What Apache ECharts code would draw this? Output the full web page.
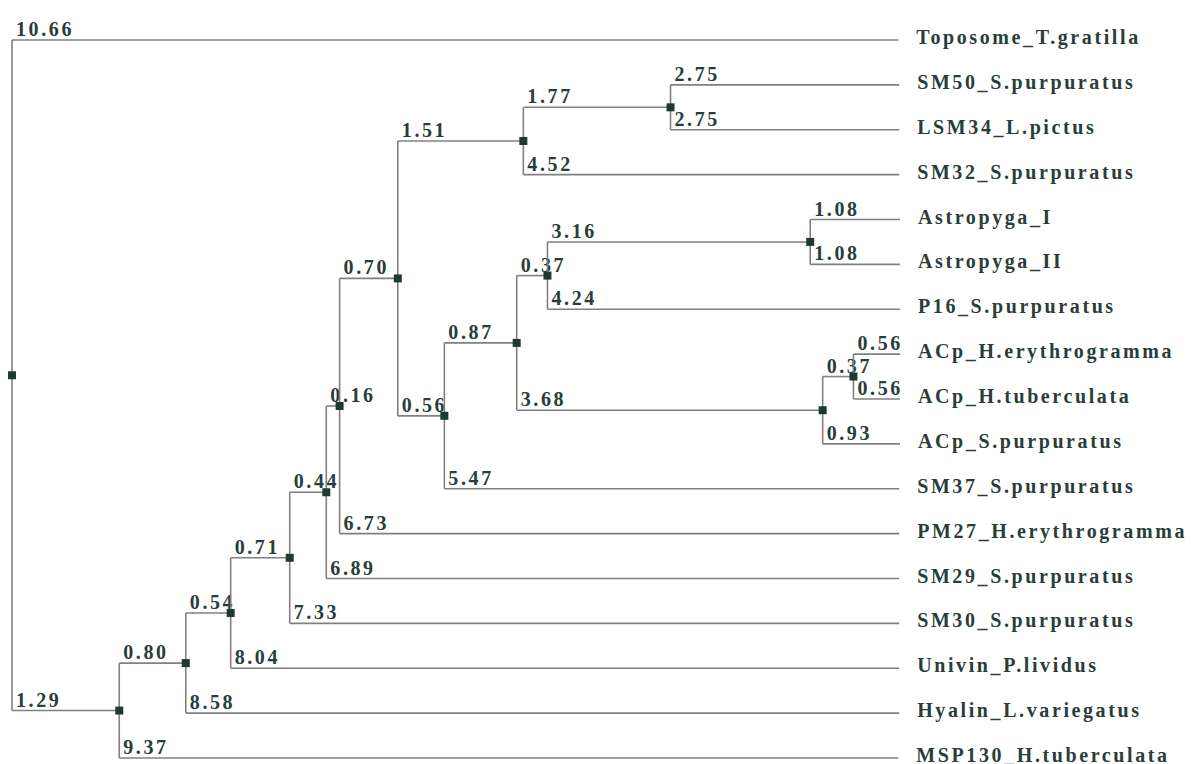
<!DOCTYPE html>
<html>
<head>
<meta charset="utf-8">
<script src="https://cdn.jsdelivr.net/npm/echarts@6/dist/echarts.min.js"></script>
<style>
html,body{margin:0;padding:0;background:#fff;}
#chart{width:1192px;height:764px;}
#chart svg text{letter-spacing:2.6px;}
</style>
</head>
<body>
<div id="chart"></div>
<script>
// Tree definition: each node, its parent and the branch length to it
const nodeNames = ['root','Toposome_T.gratilla','n1','MSP130_H.tuberculata','n2','Hyalin_L.variegatus','n3','Univin_P.lividus','n4','SM30_S.purpuratus','n5','SM29_S.purpuratus','n6','PM27_H.erythrogramma','n7','n8','n9','n10','SM32_S.purpuratus','SM50_S.purpuratus','LSM34_L.pictus','n11','SM37_S.purpuratus','n12','n13','n14','P16_S.purpuratus','Astropyga_I','Astropyga_II','n15','ACp_S.purpuratus','ACp_H.erythrogramma','ACp_H.tuberculata'];
const parentNames = [null,'root','root','n1','n1','n2','n2','n3','n3','n4','n4','n5','n5','n6','n6','n7','n7','n8','n8','n10','n10','n9','n9','n11','n11','n12','n12','n14','n14','n13','n13','n15','n15'];
const branchLengths = [0,10.66,1.29,9.37,0.80,8.58,0.54,8.04,0.71,7.33,0.44,6.89,0.16,6.73,0.70,1.51,0.56,1.77,4.52,2.75,2.75,0.87,5.47,0.37,3.68,3.16,4.24,1.08,1.08,0.37,0.93,0.56,0.56];
// Leaves from top to bottom
const leafOrder = ['Toposome_T.gratilla','SM50_S.purpuratus','LSM34_L.pictus','SM32_S.purpuratus','Astropyga_I','Astropyga_II','P16_S.purpuratus','ACp_H.erythrogramma','ACp_H.tuberculata','ACp_S.purpuratus','SM37_S.purpuratus','PM27_H.erythrogramma','SM29_S.purpuratus','SM30_S.purpuratus','Univin_P.lividus','Hyalin_L.variegatus','MSP130_H.tuberculata'];

// layout computation
const idx = {};
nodeNames.forEach((n,i)=>idx[n]=i);
const children = nodeNames.map(()=>[]);
parentNames.forEach((p,i)=>{ if(p!==null) children[idx[p]].push(i); });
const xs = new Array(nodeNames.length).fill(0);
const ys = new Array(nodeNames.length).fill(0);
function setX(i, base){ xs[i] = base + branchLengths[i]; children[i].forEach(c=>setX(c, xs[i])); }
setX(0, 0);
function setY(i){
  if(children[i].length===0){ ys[i] = leafOrder.indexOf(nodeNames[i]); return ys[i]; }
  const v = children[i].map(setY);
  ys[i] = v.reduce((a,b)=>a+b,0)/v.length; return ys[i];
}
setY(0);

const branchData = [];
for(let i=1;i<nodeNames.length;i++){
  const p = idx[parentNames[i]];
  branchData.push({value:[xs[i], ys[i], xs[p], ys[p], branchLengths[i]], leaf: children[i].length===0, name: nodeNames[i]});
}
const nodeData = [];
for(let i=0;i<nodeNames.length;i++){ if(children[i].length) nodeData.push([xs[i], ys[i]]); }

const TEXT = '#2a3d3a';
const LINE = '#808080';
const FONT = 'bold 20px "Liberation Serif", "Times New Roman", serif';

const chart = echarts.init(document.getElementById('chart'), null, {renderer:'svg'});
chart.setOption({
  animation:false,
  backgroundColor:'#fff',
  grid:{left:12, right:292, top:40, bottom:6},
  xAxis:{type:'value', min:0, max:10.68, show:false},
  yAxis:{type:'value', min:0, max:16, inverse:true, show:false},
  series:[
    {
      type:'custom',
      clip:false,
      data: branchData,
      renderItem:function(params, api){
        const c = api.coord([api.value(0), api.value(1)]);
        const pc = api.coord([api.value(2), api.value(3)]);
        const item = branchData[params.dataIndex];
        const els = [
          {type:'line', shape:{x1:pc[0], y1:c[1], x2:c[0], y2:c[1]}, style:{stroke:LINE, lineWidth:1.6}},
          {type:'line', shape:{x1:pc[0], y1:pc[1], x2:pc[0], y2:c[1]}, style:{stroke:LINE, lineWidth:1.6}},
          {type:'text', x:pc[0]+4, y:c[1]-1, style:{text:api.value(4).toFixed(2), fill:TEXT, font:FONT, textAlign:'left', textVerticalAlign:'bottom'}}
        ];
        if(item.leaf){
          els.push({type:'text', x:c[0]+18, y:c[1]-3, style:{text:item.name, fill:TEXT, font:FONT, textAlign:'left', textVerticalAlign:'middle'}});
        }
        return {type:'group', children:els};
      }
    },
    {
      type:'scatter',
      data: nodeData,
      symbol:'rect',
      symbolSize:8,
      itemStyle:{color:'#1f3a30', opacity:1},
      z:3
    }
  ]
});
</script>
</body>
</html>
